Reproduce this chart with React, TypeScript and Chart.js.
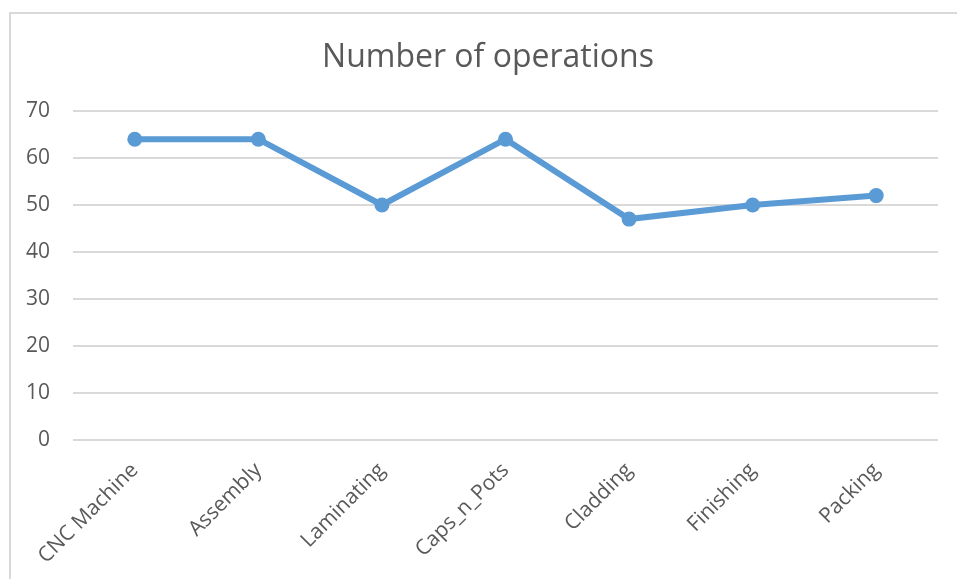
import React, { useEffect, useRef } from "react";
import { Chart, registerables } from "chart.js";

Chart.register(...registerables);

const categories = ["CNC Machine", "Assembly", "Laminating", "Caps_n_Pots", "Cladding", "Finishing", "Packing"];
const operations = [64, 64, 50, 64, 47, 50, 52];
const chartTitle = "Number of operations";

const shiftTitle = {
  id: "shiftTitle",
  afterLayout(chart: any) {
    const t = chart.titleBlock;
    if (t) {
      t.left = 19;
      t.right = 957;
      t.width = 938;
    }
  },
};

export default function App() {
  const ref = useRef<HTMLCanvasElement | null>(null);

  useEffect(() => {
    document.body.style.margin = "0";
    const ctx = ref.current!.getContext("2d")!;
    const chart = new Chart(ctx, {
      type: "line",
      data: {
        labels: categories,
        datasets: [
          {
            label: chartTitle,
            data: operations,
            borderColor: "#5B9BD5",
            backgroundColor: "#5B9BD5",
            borderWidth: 6,
            pointRadius: 7.5,
            pointBackgroundColor: "#5B9BD5",
            pointBorderWidth: 0,
            tension: 0,
          },
        ],
      },
      plugins: [shiftTitle],
      options: {
        responsive: false,
        animation: false,
        layout: { padding: { left: 0, right: 19, top: 0, bottom: 0 } },
        plugins: {
          legend: { display: false },
          tooltip: { enabled: false },
          title: {
            display: true,
            text: chartTitle,
            color: "#595959",
            font: { family: "'Open Sans'", size: 32, weight: "normal" },
            padding: { top: 39, bottom: 33.6 },
          },
        },
        scales: {
          x: {
            offset: true,
            grid: { display: false, drawTicks: false },
            border: { display: false },
            ticks: {
              color: "#595959",
              font: { family: "'Open Sans'", size: 21 },
              minRotation: 45,
              maxRotation: 45,
              padding: 18,
            },
            afterFit: (s: any) => {
              s.height = 139;
            },
          },
          y: {
            min: 0,
            max: 70,
            ticks: {
              stepSize: 10,
              color: "#595959",
              font: { family: "'Open Sans'", size: 21 },
              padding: 23,
            },
            grid: { color: "#d9d9d9", lineWidth: 2, drawTicks: false },
            border: { display: false },
            afterFit: (s: any) => {
              s.width = 73;
            },
          },
        },
      },
    });
    return () => chart.destroy();
  }, []);

  return (
    <div style={{ position: "fixed", left: 0, top: 0, width: 957, height: 579, overflow: "hidden", background: "#fff" }}>
      <div
        style={{
          position: "absolute",
          left: 9,
          top: 12,
          width: 1000,
          height: 1000,
          border: "2px solid #d9d9d9",
          boxSizing: "border-box",
        }}
      />
      <canvas ref={ref} width={957} height={579} style={{ position: "absolute", left: 0, top: 0 }} />
    </div>
  );
}
